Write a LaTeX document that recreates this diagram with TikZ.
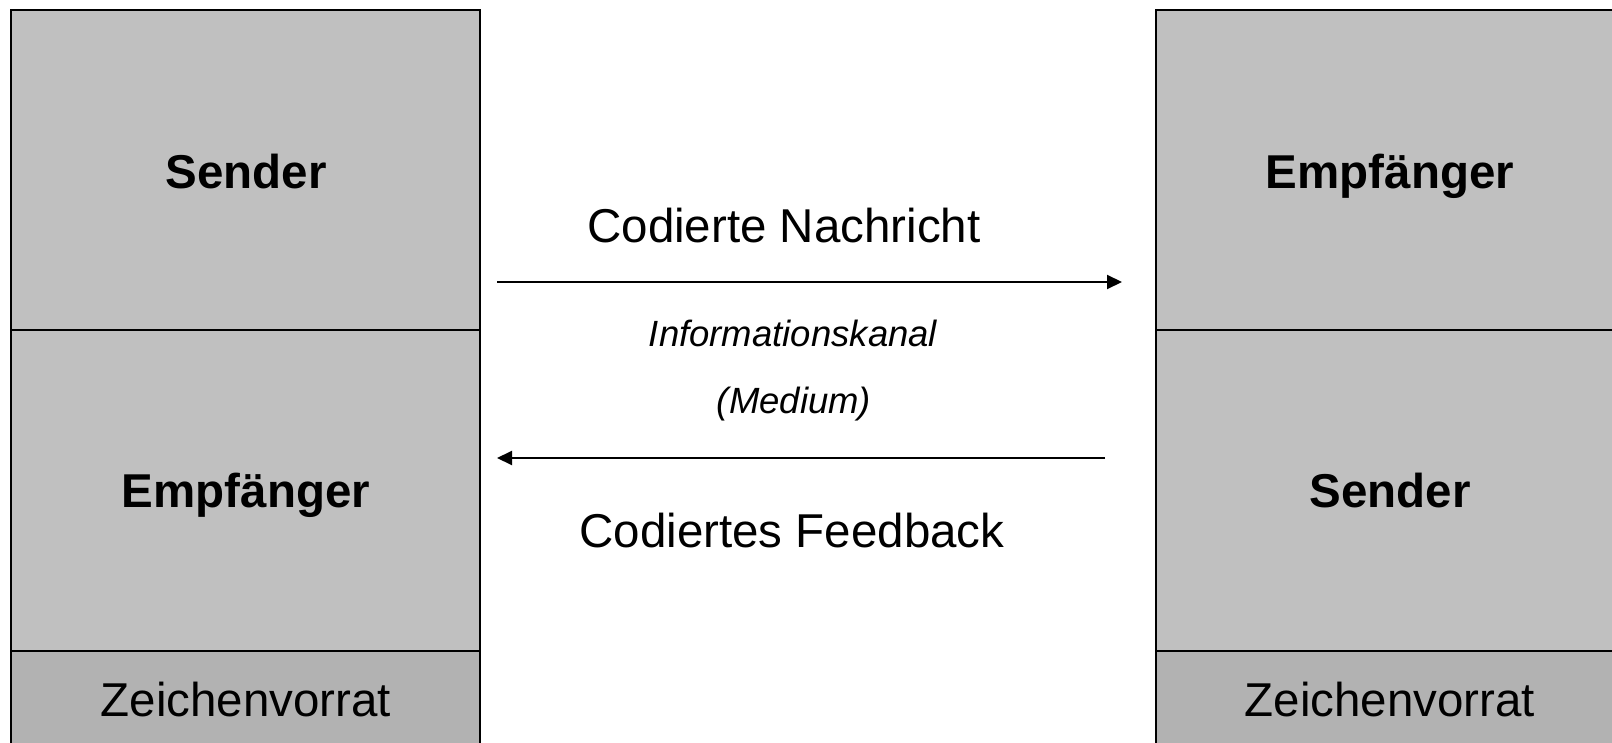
\documentclass[tikz,border=0pt]{standalone}
\usepackage{fontspec}
\setmainfont{Liberation Sans}
\usetikzlibrary{arrows.meta}
\definecolor{boxgray}{HTML}{C0C0C0}
\definecolor{zvgray}{HTML}{B2B2B2}
\begin{document}
\begin{tikzpicture}[x=1pt,y=-1pt,
  part/.style={draw=black,line width=1.5pt,minimum width=469pt,inner sep=0pt,outer sep=0pt,anchor=north west},
  upper/.style={part,fill=boxgray,minimum height=320pt},
  lower/.style={part,fill=boxgray,minimum height=321pt},
  zv/.style={part,fill=zvgray,minimum height=110pt},
  big/.style={font=\fontsize{47.5}{57}\selectfont,anchor=base,inner sep=0pt},
  bigb/.style={big,font=\fontsize{47.5}{57}\selectfont\bfseries},
  small/.style={font=\fontsize{36.5}{44}\selectfont\itshape,anchor=base,inner sep=0pt},
  arr/.style={line width=2pt,-{Triangle[length=15pt,width=14pt]}}
]
\useasboundingbox (0,0) rectangle (1612,743);
\clip (0,0) rectangle (1612,743);
\fill[white] (0,0) rectangle (1612,743);
% left column
\node[upper] (ls) at (11,10) {};
\node[lower] (lr) at (11,330) {};
\node[zv] (lz) at (11,651) {};
% right column
\node[upper] (rr) at (1156,10) {};
\node[lower] (rs) at (1156,330) {};
\node[zv] (rz) at (1156,651) {};
% labels
\node[bigb] (tls) at (246,189) {Sender};
\node[bigb] (tlr) at (246,507) {Empfänger};
\node[big] (tlz) at (246,716) {Zeichenvorrat};
\node[bigb] (trr) at (1390,189) {Empfänger};
\node[bigb] (trs) at (1390,507) {Sender};
\node[big] (trz) at (1390,716) {Zeichenvorrat};
\node[big] (msg) at (784,243) {Codierte Nachricht};
\node[big] (fb) at (792,547) {Codiertes Feedback};
\node[small] (ik) at (793,346) {Informationskanal};
\node[small] (med) at (794,413) {(Medium)};
% arrows
\coordinate (a1s) at (497,282);
\coordinate (a1e) at (1122,282);
\coordinate (a2s) at (1105,458);
\coordinate (a2e) at (497,458);
\draw[arr] (a1s) -- (a1e);
\draw[arr] (a2s) -- (a2e);
\end{tikzpicture}
\end{document}
